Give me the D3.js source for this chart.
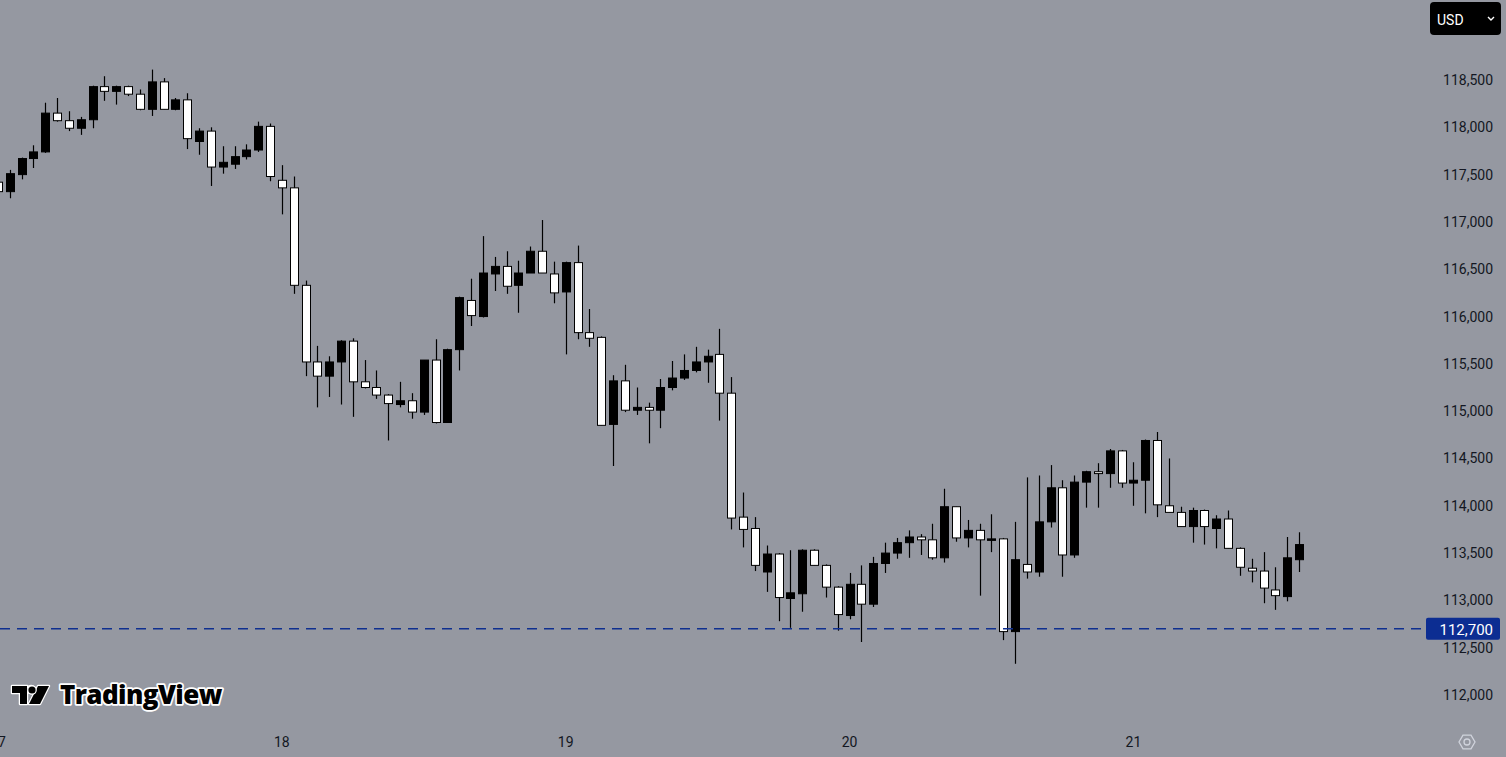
<!DOCTYPE html>
<html><head><meta charset="utf-8">
<script src="https://cdn.jsdelivr.net/npm/d3@7"></script>
<style>body{margin:0;background:#9598a1;overflow:hidden}svg{display:block}</style>
</head><body>
<svg id="c" width="1506" height="757"></svg>
<script>
const open  = [117420,117320,117500,117670,117740,118150,118070,117990,118080,118430,118380,118430,118350,118190,118480,118190,118290,117850,117960,117580,117610,117690,117760,118010,117440,117360,116330,115520,115370,115520,115740,115310,115250,115170,115070,115110,114990,115540,114880,115650,116170,116000,116450,116530,116330,116460,116690,116450,116260,116570,115830,115780,114860,115320,115010,115040,115010,115250,115350,115430,115520,115600,115190,113880,113760,113300,113490,113020,113070,113530,113370,113140,112840,113170,112960,113390,113500,113610,113670,113640,113450,113990,113660,113740,113640,113650,112670,113380,113300,113830,114190,113480,114250,114360,114340,114580,114240,114270,114690,114000,113930,113780,113950,113760,113860,113550,113340,113310,113110,113040,113430];
const high  = [117490,117550,117680,117810,118260,118310,118170,118110,118440,118540,118440,118440,118400,118610,118520,118310,118360,117990,118000,117800,117800,117820,118060,118040,117600,117480,116380,115690,115580,115750,115770,115540,115430,115180,115310,115190,115540,115760,115660,116210,116400,116850,116630,116690,116590,116740,117020,116580,116580,116750,116080,115790,115380,115490,115250,115090,115340,115530,115600,115680,115650,115870,115360,114140,113880,113580,113500,113530,113540,113540,113380,113150,113290,113370,113460,113610,113660,113740,113700,113810,114180,113990,113850,113810,113910,113660,113830,114300,114320,114430,114270,114320,114370,114450,114600,114590,114460,114700,114780,114500,113990,113980,113960,113900,113950,113560,113440,113510,113350,113670,113720];
const low   = [117260,117250,117450,117570,117730,118060,117960,117920,117990,118280,118240,118330,118180,118120,118190,118180,117770,117710,117380,117510,117560,117660,117740,117430,117080,116240,115370,115040,115150,115070,114940,115240,115130,114690,115040,114920,114960,114870,114880,115430,115900,115990,116270,116240,116040,116460,116460,116140,115600,115760,115680,114850,114420,114990,114960,114660,114820,115220,115330,115410,115300,114900,113750,113560,113310,113090,112780,112710,112880,113370,113030,112680,112800,112560,112930,113290,113440,113450,113480,113430,113400,113620,113560,113050,113510,112580,112330,113230,113250,113770,113250,113450,113980,113980,114190,114190,114000,113920,113880,113930,113780,113610,113590,113550,113550,113260,113190,112970,112900,112990,113300];
const close = [117320,117510,117670,117740,118150,118070,117990,118080,118430,118380,118430,118350,118190,118480,118190,118290,117880,117960,117580,117630,117690,117760,118010,117480,117360,116330,115520,115370,115520,115740,115310,115250,115170,115080,115110,114990,115540,114880,115650,116200,116010,116460,116530,116320,116460,116690,116460,116250,116570,115830,115770,114850,115320,115010,115040,115010,115250,115350,115430,115520,115580,115190,113870,113750,113370,113490,113030,113080,113530,113370,113140,112850,113170,112960,113390,113500,113610,113670,113640,113450,113990,113660,113740,113640,113650,112670,113430,113300,113830,114190,113480,114250,114360,114340,114580,114240,114270,114690,114010,113930,113780,113950,113780,113860,113550,113350,113310,113130,113050,113450,113590];
const dayLabels = ["17","18","19","20","21"];
const dayIndex = [0,24,48,72,96];
const priceTicks = [112000,112500,113000,113500,114000,114500,115000,115500,116000,116500,117000,117500,118000,118500];
const refPrice = 112700;

const svg = d3.select("#c");
const x = d3.scaleLinear().domain([0,110]).range([-2,1299]);
const y = d3.scaleLinear().domain([112000,118500]).range([695,80]);
const fmt = d3.format(",");
const ink = "#131722";

const g = svg.append("g");
const data = open.map((o,i)=>({i,o,h:high[i],l:low[i],c:close[i]}));
g.selectAll("line.w").data(data).join("line")
  .attr("x1",d=>Math.round(x(d.i))+0.5).attr("x2",d=>Math.round(x(d.i))+0.5)
  .attr("y1",d=>y(d.h)).attr("y2",d=>y(d.l)).attr("stroke","#000").attr("stroke-width",1.2);
g.selectAll("rect").data(data).join("rect")
  .attr("x",d=>Math.round(x(d.i))-3.5).attr("width",8)
  .attr("y",d=>y(Math.max(d.o,d.c))).attr("height",d=>Math.max(1.5,Math.abs(y(d.o)-y(d.c))))
  .attr("fill",d=>d.c>d.o?"#000":"#fff").attr("stroke","#000").attr("stroke-width",1);

// reference line
svg.append("line").attr("x1",0).attr("x2",1424).attr("y1",y(refPrice)).attr("y2",y(refPrice))
  .attr("stroke","#0f2f8f").attr("stroke-width",1.5).attr("stroke-dasharray","10,7");

// price axis
svg.selectAll("text.p").data(priceTicks.filter(p=>p!==112500||true)).join("text")
  .attr("x",1493).attr("y",d=>y(d)+5).attr("text-anchor","end")
  .attr("font-family","Roboto, 'Noto Sans', sans-serif").attr("font-size",14).attr("fill",ink)
  .text(d=>fmt(d));
svg.append("rect").attr("x",1426).attr("y",y(refPrice)-11).attr("width",74).attr("height",22).attr("rx",2).attr("fill","#0c2d92");
svg.append("text").attr("x",1493).attr("y",y(refPrice)+6).attr("text-anchor","end")
  .attr("font-family","Roboto, 'Noto Sans', sans-serif").attr("font-size",15).attr("fill","#fff").text(fmt(refPrice));

// time axis
svg.selectAll("text.t").data(dayIndex).join("text")
  .attr("x",d=>x(d)).attr("y",747).attr("text-anchor","middle")
  .attr("font-family","Roboto, 'Noto Sans', sans-serif").attr("font-size",14).attr("fill",ink)
  .text((d,i)=>dayLabels[i]);

// USD button
svg.append("rect").attr("x",1430).attr("y",2).attr("width",71).attr("height",33).attr("rx",4).attr("fill","#000");
svg.append("text").attr("x",1437).attr("y",25).attr("font-family","Roboto, sans-serif").attr("font-size",14).attr("fill","#fff").text("USD");
svg.append("path").attr("d","M1488,17 l3,3 l3,-3").attr("fill","none").attr("stroke","#fff").attr("stroke-width",1.4);

// settings hexagon
svg.append("path").attr("d",d3.range(6).map((k,j)=>{const a=Math.PI/3*k;return (j?"L":"M")+(1467+8*Math.cos(a))+","+(742+8*Math.sin(a));}).join("")+"Z")
  .attr("fill","none").attr("stroke","#d0d3dc").attr("stroke-width",1.3);
svg.append("circle").attr("cx",1467).attr("cy",742).attr("r",3).attr("fill","none").attr("stroke","#d0d3dc").attr("stroke-width",1.3);

// logo
const lg = svg.append("g");
lg.append("path").attr("d","M12,686 h15 v18 h-7 v-11 h-8 Z M31,686 m0,0 a3.5,3.5 0 1,0 0.1,0 Z M38,686 h11 l-9,18 h-11 Z")
  .attr("fill","#000").attr("stroke","#fff").attr("stroke-width",2.5).attr("paint-order","stroke").attr("stroke-linejoin","round");
lg.append("circle").attr("cx",32).attr("cy",690).attr("r",3.6).attr("fill","#000").attr("stroke","#fff").attr("stroke-width",2.5).attr("paint-order","stroke");
lg.append("text").attr("x",60).attr("y",704).attr("font-family","'Open Sans', sans-serif").attr("font-weight",800)
  .attr("font-size",26).attr("letter-spacing",-0.6).attr("fill","#000").attr("stroke","#fff").attr("stroke-width",3.5)
  .attr("paint-order","stroke").attr("stroke-linejoin","round").text("TradingView");
</script>
</body></html>
